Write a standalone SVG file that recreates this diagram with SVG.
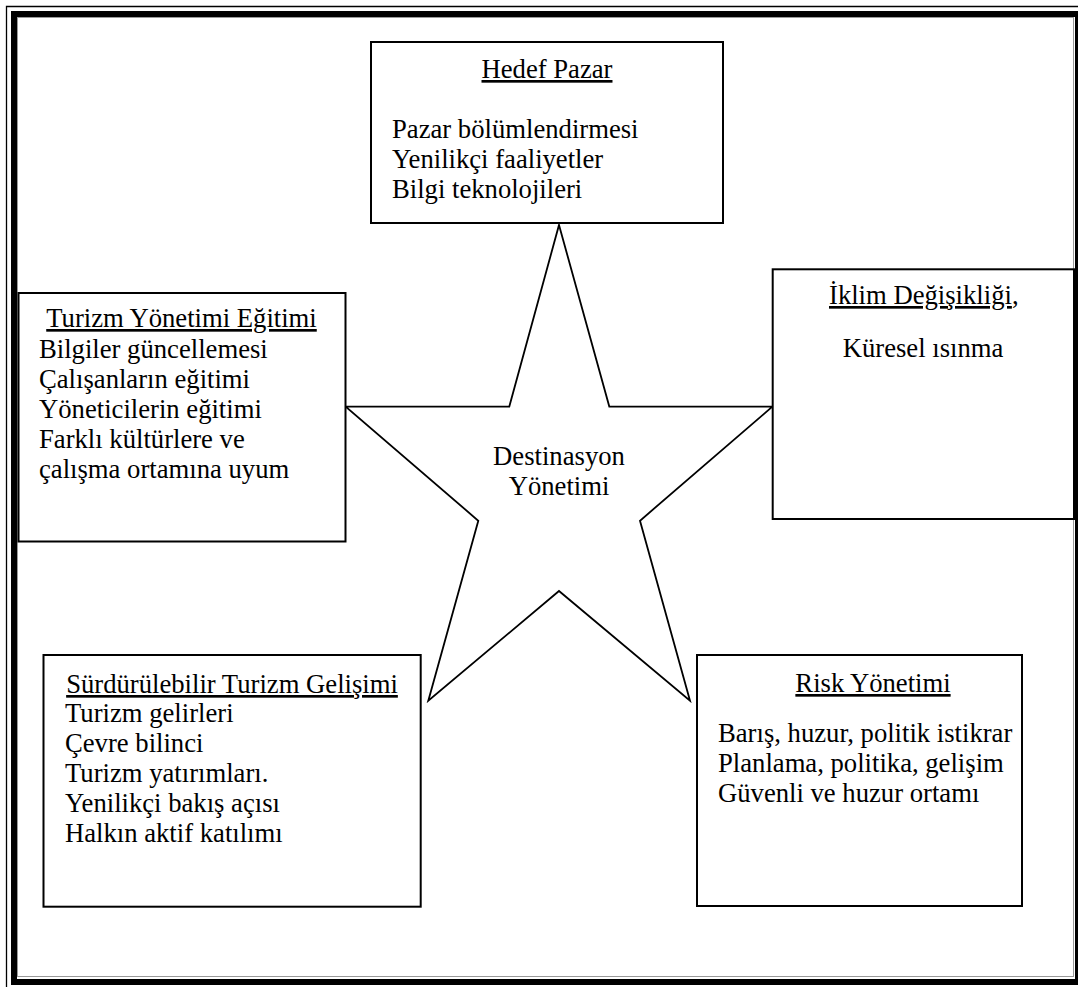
<svg xmlns="http://www.w3.org/2000/svg" width="1078" height="987" viewBox="0 0 1078 987">
<style>
.box{fill:#fff;stroke:#000;stroke-width:2}
.star{fill:#fff;stroke:#000;stroke-width:1.8;stroke-linejoin:miter}
text{font-family:"Liberation Serif","Times New Roman",serif;font-size:26.67px;fill:#000}
.c{text-anchor:middle}
.u{text-decoration:underline}
</style>
<rect x="0" y="0" width="1078" height="987" fill="#fff"/>
<g id="frame">
<path d="M6.5,987 V6.5 H1078" fill="none" stroke="#000" stroke-width="1.3"/>
<rect x="14" y="14" width="1064" height="968" fill="none" stroke="#000" stroke-width="6"/>
<rect x="17.5" y="17.5" width="1056" height="959" fill="none" stroke="#999" stroke-width="1"/>
</g>
<g id="star">
<polygon class="star" points="559,225 609.3,406.5 772.3,406.7 640,520.7 690,700.7 559,591 428.3,700.7 478.3,520.7 345.7,406.7 509.3,406.5"/>
<text class="c" x="559" y="465">Destinasyon</text>
<text class="c" x="559" y="495">Yönetimi</text>
</g>
<g id="hedef-pazar">
<rect class="box" x="371" y="42" width="352" height="181"/>
<text class="c u" x="547" y="78">Hedef Pazar</text>
<text x="392" y="138">Pazar bölümlendirmesi</text>
<text x="392" y="168">Yenilikçi faaliyetler</text>
<text x="392" y="198">Bilgi teknolojileri</text>
</g>
<g id="turizm-yonetimi">
<rect class="box" x="18.5" y="293" width="327" height="248.5"/>
<text class="c u" x="181.5" y="327">Turizm Yönetimi Eğitimi</text>
<text x="39" y="358">Bilgiler güncellemesi</text>
<text x="39" y="388">Çalışanların eğitimi</text>
<text x="39" y="418">Yöneticilerin eğitimi</text>
<text x="39" y="448">Farklı kültürlere ve</text>
<text x="39" y="478">çalışma ortamına uyum</text>
</g>
<g id="iklim">
<rect class="box" x="772.7" y="269.3" width="301.3" height="249.7"/>
<text x="829" y="304"><tspan class="u">İklim Değişikliği</tspan>,</text>
<text class="c" x="923" y="357">Küresel ısınma</text>
</g>
<g id="surdurulebilir">
<rect class="box" x="43.5" y="655" width="377.2" height="251.7"/>
<text class="c u" x="232" y="693">Sürdürülebilir Turizm Gelişimi</text>
<text x="65" y="722">Turizm gelirleri</text>
<text x="65" y="752">Çevre bilinci</text>
<text x="65" y="782">Turizm yatırımları.</text>
<text x="65" y="812">Yenilikçi bakış açısı</text>
<text x="65" y="842">Halkın aktif katılımı</text>
</g>
<g id="risk">
<rect class="box" x="697" y="655" width="325" height="251"/>
<text class="c u" x="873" y="692">Risk Yönetimi</text>
<text x="718" y="742">Barış, huzur, politik istikrar</text>
<text x="718" y="772">Planlama, politika, gelişim</text>
<text x="718" y="802">Güvenli ve huzur ortamı</text>
</g>
</svg>
